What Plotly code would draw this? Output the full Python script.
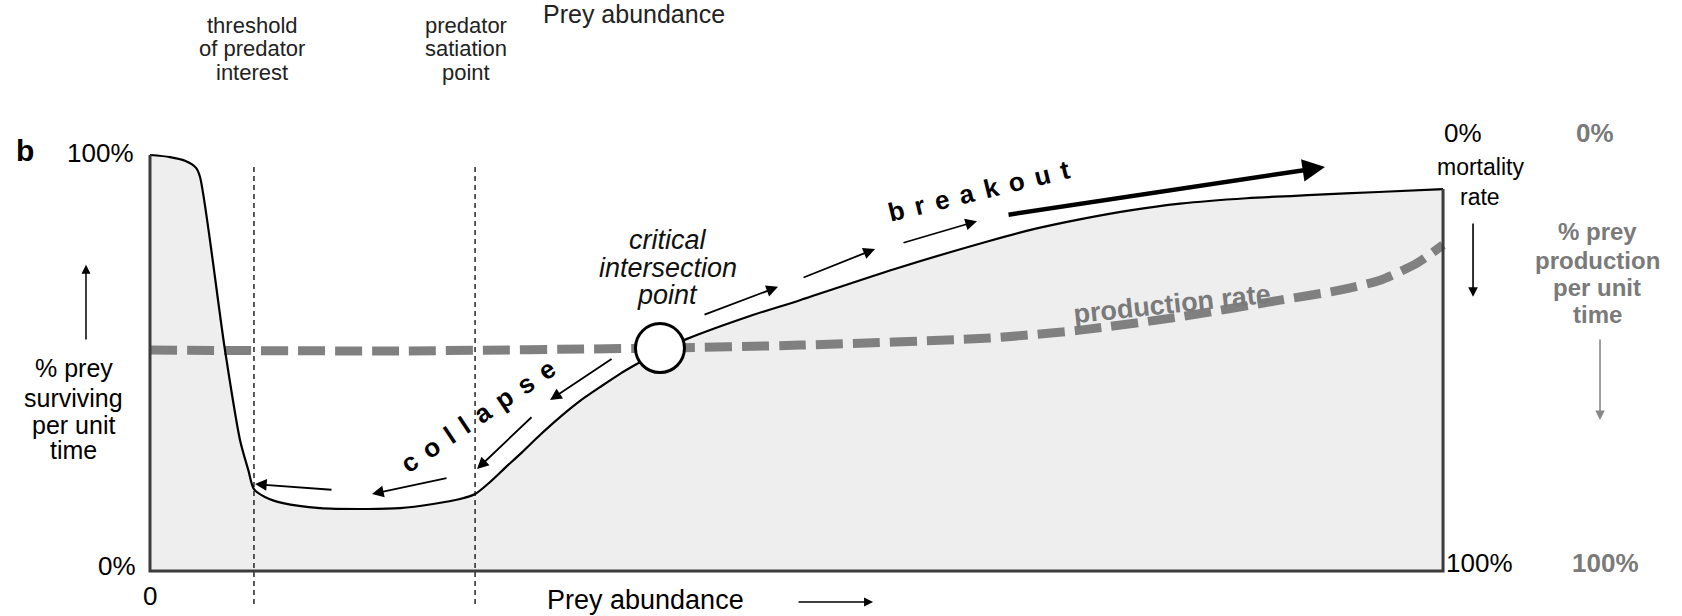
import plotly.graph_objects as go

# ---------------- data (x: prey abundance 0-100, y: % prey surviving 0-100) ----------------
prey_x = [0, 1.55, 2.71, 3.56, 3.87, 5.80, 6.96, 7.6, 8.04, 8.89, 10.29, 13.15, 16.78, 19.33,
          21.89, 23.98, 25.14, 26.30, 27.46, 28.62, 30.16, 31.71, 33.26, 34.80, 36.35, 37.90,
          39.44, 41.53, 46.40, 50.27, 57.6, 64.97, 68.5, 72.0, 75.8, 79.66, 84.8, 89.95, 95.0, 100]
survival = [100, 99.5, 98.6, 96.9, 94.7, 53.1, 31.5, 24.3, 19.7, 17.8, 16.3, 15.1, 14.9, 15.1,
            16.1, 17.3, 18.5, 21.4, 24.8, 28.1, 32.7, 37.0, 40.9, 44.2, 47.4, 50.2,
            52.9, 55.8, 61.3, 65.1, 72.6, 79.4, 82.3, 84.6, 86.7, 88.3, 89.6, 90.4, 91.1, 91.8]

production_x = [0, 19.33, 39.44, 50.27, 64.97, 71.93, 79.66, 87.39, 92.0, 95.13, 97.99, 100]
production = [53.1, 52.9, 53.6, 54.3, 56.0, 57.9, 61.1, 65.1, 67.5, 69.9, 74.0, 78.4]

threshold_x = 8.04
satiation_x = 25.14
critical_x, critical_y = 39.44, 53.6

# collapse arrows (tail -> head)
collapse_tail_x = [35.81, 29.62, 23.05, 14.15]
collapse_tail_y = [51.2, 37.3, 22.4, 19.5]
collapse_head_x = [30.94, 25.29, 17.17, 8.12]
collapse_head_y = [41.1, 24.5, 18.5, 20.9]
# breakout arrows
breakout_tail_x = [42.77, 50.43, 58.16]
breakout_tail_y = [61.5, 70.4, 78.8]
breakout_head_x = [48.57, 56.07, 63.96]
breakout_head_y = [68.3, 77.4, 84.1]
big_tail = (66.28, 85.6)
big_head = (90.87, 97.1)

FONT = "Liberation Sans, Arial, Helvetica, sans-serif"
GRAY = "#808080"
TEXTGRAY = "#7a7a7a"

fig = go.Figure()

# filled area under survival curve
fig.add_trace(go.Scatter(x=prey_x, y=survival, mode="lines", fill="tozeroy",
                         fillcolor="#eeeeee", line=dict(width=0, shape="spline", smoothing=0.8),
                         hoverinfo="skip", showlegend=False))

# threshold / satiation dotted verticals
for vx in (threshold_x, satiation_x):
    fig.add_trace(go.Scatter(x=[vx, vx], y=[97.1, -8.6], mode="lines",
                             line=dict(color="#333333", width=1.6, dash="5px,4px"),
                             hoverinfo="skip", showlegend=False))

# production rate dashed line
fig.add_trace(go.Scatter(x=production_x, y=production, mode="lines",
                         line=dict(color=GRAY, width=9, dash="27px,10px", shape="spline", smoothing=0.6),
                         hoverinfo="skip", showlegend=False))

# survival curve
fig.add_trace(go.Scatter(x=prey_x, y=survival, mode="lines",
                         line=dict(color="black", width=2.2, shape="spline", smoothing=0.8),
                         hoverinfo="skip", showlegend=False))

# axis box (left, bottom, right)
fig.add_trace(go.Scatter(x=[0, 0, 100, 100], y=[100, 0, 0, survival[-1]], mode="lines",
                         line=dict(color="#3c3c3c", width=3), hoverinfo="skip", showlegend=False))

# critical intersection circle
fig.add_trace(go.Scatter(x=[critical_x], y=[critical_y], mode="markers",
                         marker=dict(size=49, color="white", line=dict(color="black", width=3)),
                         hoverinfo="skip", showlegend=False))

ann = []

def arrow(tx, ty, hx, hy, width=1.8, size=1.3, color="black", head=2):
    ann.append(dict(x=hx, y=hy, ax=tx, ay=ty, xref="x", yref="y", axref="x", ayref="y",
                    showarrow=True, arrowhead=head, arrowsize=size, arrowwidth=width,
                    arrowcolor=color, text=""))

for i in range(len(collapse_tail_x)):
    arrow(collapse_tail_x[i], collapse_tail_y[i], collapse_head_x[i], collapse_head_y[i])
for i in range(len(breakout_tail_x)):
    arrow(breakout_tail_x[i], breakout_tail_y[i], breakout_head_x[i], breakout_head_y[i])
arrow(big_tail[0], big_tail[1], big_head[0], big_head[1], width=4.5, size=1.0)

# axis direction arrows
arrow(-4.95, 55.3, -4.95, 73.6, width=1.5, size=1.2)          # left up
arrow(102.32, 83.9, 102.32, 65.9, width=1.6, size=1.2)        # right black down
arrow(112.14, 56.0, 112.14, 36.3, width=1.6, size=1.2, color="#888888")  # gray down
arrow(50.04, -7.45, 55.92, -7.45, width=1.5, size=1.2)        # prey abundance right


def label(text, x, y, size, color="black", xanchor="center", yanchor="middle",
          bold=False, italic=False, angle=0):
    t = text
    if bold:
        t = "<b>" + t + "</b>"
    if italic:
        t = "<i>" + t + "</i>"
    ann.append(dict(x=x, y=y, xref="x", yref="y", text=t, showarrow=False,
                    xanchor=xanchor, yanchor=yanchor, textangle=angle,
                    font=dict(family=FONT, size=size, color=color)))

# top labels
for t, yy in zip(["threshold", "of predator", "interest"], [131.25, 125.7, 119.95]):
    label(t, 7.89, yy, 22, "#222222")
for t, yy in zip(["predator", "satiation", "point"], [131.25, 125.7, 119.95]):
    label(t, 24.4, yy, 22, "#222222")
label("Prey abundance", 37.4, 134.0, 25, "#222222")

# panel letter and left axis
label("b", -9.67, 101.0, 30, bold=True)
label("100%", -1.1, 100.5, 26, xanchor="right")
label("0%", -0.9, 1.2, 26, xanchor="right")
label("0", 0, -6.0, 26)
for t, yy in zip(["% prey", "surviving", "per unit", "time"], [48.8, 41.6, 35.1, 29.1]):
    label(t, -5.9, yy, 25)

# bottom axis
label("Prey abundance", 38.3, -7.0, 27)

# right axis (mortality)
label("0%", 101.55, 105.3, 26)
label("mortality", 102.86, 97.1, 23)
label("rate", 102.86, 89.9, 23)
label("100%", 100.1, 1.9, 26, xanchor="left")

# right axis (production)
label("0%", 111.76, 105.3, 26, TEXTGRAY, bold=True)
for t, yy in zip(["% prey", "production", "per unit", "time"], [81.5, 74.6, 68.1, 61.6]):
    label(t, 111.91, yy, 24, TEXTGRAY, bold=True)
label("100%", 112.53, 1.9, 26, TEXTGRAY, bold=True)

# in-plot labels
for t, yy in zip(["critical", "intersection", "point"], [79.6, 72.8, 66.3]):
    label(t, 40.06, yy, 27, "#111111", italic=True)

SP = "\u2005\u2006"
label(SP.join("collapse"), 25.37, 37.3, 26, bold=True, angle=-34)
label(SP.join("breakout"), 64.11, 91.3, 26, bold=True, angle=-13.7)
label("production rate", 79.04, 64.2, 27, TEXTGRAY, bold=True, angle=-6)

fig.update_layout(
    width=1682, height=616,
    margin=dict(l=0, r=0, t=0, b=0),
    paper_bgcolor="white", plot_bgcolor="white",
    showlegend=False,
    annotations=ann,
    xaxis=dict(range=[-11.60, 118.48], visible=False, fixedrange=True),
    yaxis=dict(range=[-10.82, 137.26], visible=False, fixedrange=True),
)

fig.write_html("out.html", config={"displayModeBar": False},
               post_script="document.body.style.margin='0';document.body.style.overflow='hidden';")
